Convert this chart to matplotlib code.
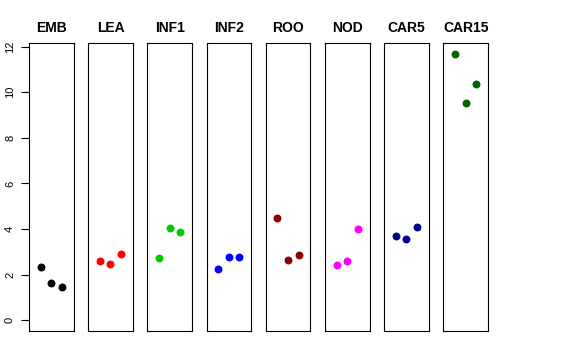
import matplotlib
matplotlib.use('Agg')
import matplotlib.pyplot as plt

plt.rcParams['font.family'] = ['Liberation Sans', 'DejaVu Sans']

# stages and their three measurements each
stages = ['EMB', 'LEA', 'INF1', 'INF2', 'ROO', 'NOD', 'CAR5', 'CAR15']
values = [
    [2.32, 1.63, 1.44],
    [2.59, 2.49, 2.92],
    [2.75, 4.05, 3.88],
    [2.25, 2.78, 2.78],
    [4.48, 2.63, 2.85],
    [2.41, 2.61, 4.00],
    [3.69, 3.56, 4.08],
    [11.69, 9.53, 10.36],
]
colors = ['black', 'red', '#00CD00', 'blue', '#8B0000', 'magenta', '#00008B', '#006400']
yticks = [0, 2, 4, 6, 8, 10, 12]

W, H = 576, 360
fig = plt.figure(figsize=(W / 100, H / 100), dpi=100)

left0, step, width = 29, 59.2, 44.5
top, bottom = 43, 331

ymax = max(max(v) for v in values)
pad = 0.04 * ymax

for i, (name, vals, col) in enumerate(zip(stages, values, colors)):
    x0 = left0 + i * step
    ax = fig.add_axes([x0 / W, 1 - bottom / H, width / W, (bottom - top) / H])
    ax.scatter([1, 2, 3], vals, s=22, color=col, zorder=3)
    ax.set_xlim(-0.1, 4.1)
    ax.set_ylim(-pad, ymax + pad)
    ax.set_xticks([])
    for sp in ax.spines.values():
        sp.set_linewidth(0.8)
        sp.set_color('black')
    ax.set_title(name, fontsize=10, fontweight='bold', pad=8)
    if i == 0:
        ax.set_yticks(yticks)
        ax.set_yticklabels([str(t) for t in yticks], rotation=90, va='center', fontsize=8)
        ax.tick_params(axis='y', length=6, width=0.8, pad=4)
    else:
        ax.set_yticks([])

fig.savefig('out.png', dpi=100, facecolor='white')
